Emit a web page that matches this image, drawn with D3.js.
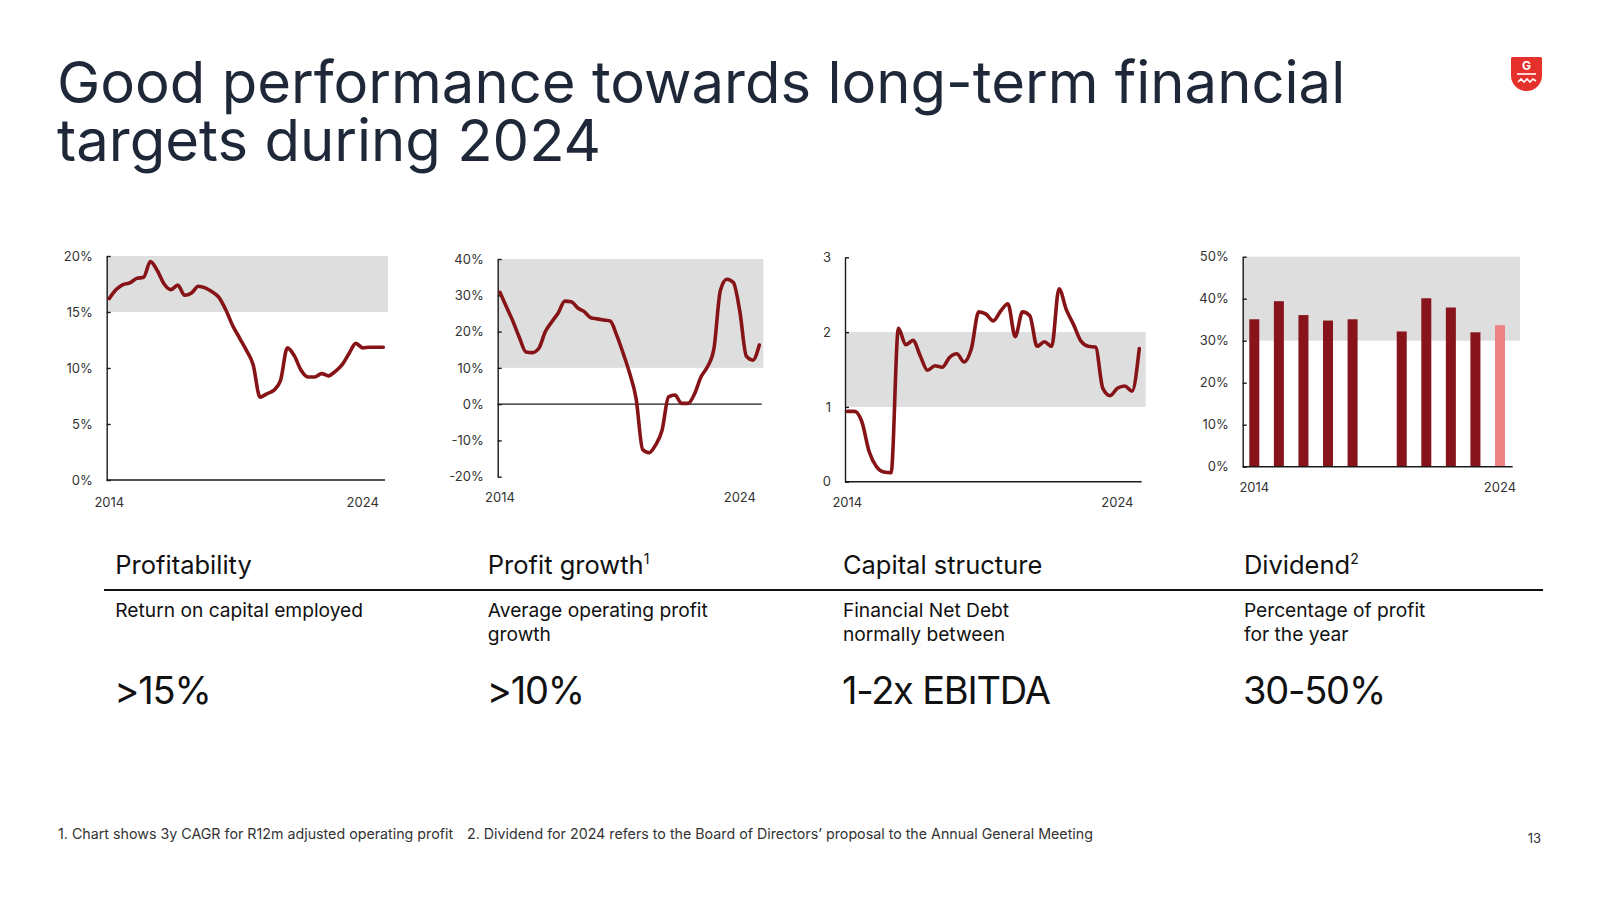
<!DOCTYPE html>
<html><head><meta charset="utf-8">
<script src="https://cdn.jsdelivr.net/npm/d3@7"></script>
<style>html,body{margin:0;padding:0;background:#fff;}svg{display:block;font-family:Inter,"Noto Sans",sans-serif;}</style>
</head><body>
<svg id="c" width="1600" height="900"></svg>
<script>
// ---------- DATA ----------
const quarters = ["2014Q4","2015Q1","2015Q2","2015Q3","2015Q4","2016Q1","2016Q2","2016Q3","2016Q4","2017Q1","2017Q2","2017Q3","2017Q4","2018Q1","2018Q2","2018Q3","2018Q4","2019Q1","2019Q2","2019Q3","2019Q4","2020Q1","2020Q2","2020Q3","2020Q4","2021Q1","2021Q2","2021Q3","2021Q4","2022Q1","2022Q2","2022Q3","2022Q4","2023Q1","2023Q2","2023Q3","2023Q4","2024Q1","2024Q2","2024Q3","2024Q4"];
const roce = [16.2,17.0,17.45,17.6,18.0,18.1,19.5,18.7,17.5,17.0,17.4,16.5,16.7,17.3,17.15,16.8,16.3,15.2,13.8,12.7,11.6,10.3,7.4,7.7,8.0,8.9,11.8,11.1,9.8,9.2,9.2,9.5,9.3,9.7,10.3,11.3,12.2,11.8,11.85,11.85,11.85];
const profitGrowth = [30.8,26.8,22.8,18.3,14.4,14.2,15.4,20.0,22.7,25.2,28.4,28.2,26.5,25.5,23.8,23.5,23.2,22.9,19.0,14.0,8.5,1.5,-12.5,-13.4,-11.3,-7.2,2.0,2.5,0.2,0.2,2.8,7.5,10.3,15.3,31.4,34.4,33.5,25.5,13.2,12.1,16.3];
const netDebtEbitda = [0.94,0.94,0.80,0.40,0.20,0.13,0.12,2.05,1.83,1.89,1.68,1.49,1.55,1.53,1.66,1.71,1.60,1.78,2.27,2.24,2.15,2.28,2.38,1.94,2.27,2.22,1.81,1.87,1.81,2.58,2.30,2.10,1.88,1.81,1.80,1.25,1.15,1.25,1.28,1.21,1.78];
const divYears = [2014,2015,2016,2017,2018,2019,2020,2021,2022,2023,2024];
const divPayout = [35.1,39.4,36.1,34.8,35.1,null,32.2,40.1,37.9,32.0,33.7];
const xTickQuarters = ["2014Q4","2024Q1"];
const xTickLabels = ["2014","2024"];
const roceTicks = [0,5,10,15,20];
const growthTicks = [-20,-10,0,10,20,30,40];
const debtTicks = [0,1,2,3];
const divTicks = [0,10,20,30,40,50];
const roceTarget = [15,20];
const growthTarget = [10,40];
const debtTarget = [1,2];
const divTarget = [30,50];

const titleLines = ["Good performance towards long-term financial","targets during 2024"];
const headings = [["Profitability",""],["Profit growth","1"],["Capital structure",""],["Dividend","2"]];
const subLabels = [["Return on capital employed"],["Average operating profit","growth"],["Financial Net Debt","normally between"],["Percentage of profit","for the year"]];
const targets = [">15%",">10%","1-2x EBITDA","30-50%"];
const footnote1 = "1. Chart shows 3y CAGR for R12m adjusted operating profit";
const footnote2 = "2. Dividend for 2024 refers to the Board of Directors\u2019 proposal to the Annual General Meeting";
const pageNo = "13";

// ---------- STYLE ----------
const RED = "#861417", BAR = "#86141A", BAR_LAST = "#EE8282", BAND = "#DEDEDE", AX = "#1a1a1a", TXT = "#333";
const svg = d3.select("#c");

// Title
titleLines.forEach((t,i)=> svg.append("text").attr("fill","#1F2839").attr("font-size",58).attr("x",57).attr("y",103+i*57.5).text(t));

// Logo
const lg = svg.append("g").attr("transform","translate(1511,57)");
lg.append("path").attr("d","M0,1.5 Q0,0 1.5,0 H29.5 Q31,0 31,1.5 V18.5 A15.5,15.5 0 0 1 0,18.5 Z").attr("fill","#E6302C");
lg.append("text").attr("x",15.5).attr("y",13).attr("text-anchor","middle").attr("font-size",12).attr("font-weight",700).attr("fill","#fff").text("G");
lg.append("line").attr("x1",6).attr("x2",25).attr("y1",17).attr("y2",17).attr("stroke","#fff").attr("stroke-width",1.6);
lg.append("path").attr("d","M7,25 L10,22 L13,25 L16,22 L19,25 L22,22 L25,24").attr("fill","none").attr("stroke","#fff").attr("stroke-width",1.6);

// ---------- LINE CHARTS ----------
function lineChart(cfg){
  const g = svg.append("g");
  const x = d3.scaleLinear().domain([0, quarters.length-1]).range(cfg.xr);
  const y = d3.scaleLinear().domain(cfg.yd).range([cfg.bottom, cfg.top]);
  g.append("rect").attr("x",cfg.axisX).attr("width",cfg.bandEnd-cfg.axisX)
    .attr("y",y(cfg.target[1])).attr("height",y(cfg.target[0])-y(cfg.target[1])).attr("fill",BAND);
  const ax = d3.axisLeft(y).tickValues(cfg.ticks).tickSize(-4).tickSizeOuter(0).tickPadding(14).tickFormat(cfg.fmt);
  const ag = g.append("g").attr("transform",`translate(${cfg.axisX},0)`).call(ax);
  ag.selectAll("path,line").attr("stroke",AX).attr("stroke-width",1.4);
  ag.selectAll("text").attr("font-size",13).attr("fill",TXT).attr("font-family","Inter");
  g.append("line").attr("x1",cfg.axisX).attr("x2",cfg.axisEnd).attr("y1",y(cfg.base)).attr("y2",y(cfg.base)).attr("stroke",AX).attr("stroke-width",1.4);
  g.selectAll(".xl").data(xTickQuarters).join("text").attr("x",d=>x(quarters.indexOf(d))).attr("y",cfg.labelY)
    .attr("text-anchor","middle").attr("font-size",13).attr("fill",TXT).text((d,i)=>xTickLabels[i]);
  const line = d3.line().x((d,i)=>x(i)).y(d=>y(d)).curve(d3.curveMonotoneX);
  g.append("path").datum(cfg.data).attr("d",line).attr("fill","none").attr("stroke",RED).attr("stroke-width",3.6).attr("stroke-linejoin","round").attr("stroke-linecap","round");
}
const pct = d=>d+"%";
lineChart({data:roce, yd:[0,20], ticks:roceTicks, target:roceTarget, fmt:pct, axisX:106.7, bandEnd:388, axisEnd:385, top:256, bottom:480, xr:[109.3,383.3], labelY:506.5, base:0});
lineChart({data:profitGrowth, yd:[-20,40], ticks:growthTicks, target:growthTarget, fmt:pct, axisX:497.7, bandEnd:763.3, axisEnd:761.7, top:259, bottom:476.7, xr:[500,759.3], labelY:501.5, base:0});
lineChart({data:netDebtEbitda, yd:[0,3], ticks:debtTicks, target:debtTarget, fmt:d=>d, axisX:845, bandEnd:1145.7, axisEnd:1141.7, top:257.3, bottom:481.7, xr:[847.3,1139.3], labelY:506.5, base:0});

// ---------- BAR CHART ----------
(function(){
  const g = svg.append("g");
  const axisX=1242.7, bandEnd=1520, axisEnd=1512.7, top=256.7, bottom=466.7;
  const x = d3.scalePoint().domain(divYears).range([1254.3,1500]);
  const y = d3.scaleLinear().domain([0,50]).range([bottom,top]);
  g.append("rect").attr("x",axisX).attr("width",bandEnd-axisX).attr("y",y(divTarget[1])).attr("height",y(divTarget[0])-y(divTarget[1])).attr("fill",BAND);
  const bw = 10;
  g.selectAll(".bar").data(divYears.map((yr,i)=>({yr,v:divPayout[i],last:i===divYears.length-1})).filter(d=>d.v!=null))
    .join("rect").attr("x",d=>x(d.yr)-bw/2).attr("width",bw).attr("y",d=>y(d.v)).attr("height",d=>y(0)-y(d.v))
    .attr("fill",d=>d.last?BAR_LAST:BAR);
  const ax = d3.axisLeft(y).tickValues(divTicks).tickSize(-4).tickSizeOuter(0).tickPadding(14).tickFormat(pct);
  const ag = g.append("g").attr("transform",`translate(${axisX},0)`).call(ax);
  ag.selectAll("path,line").attr("stroke",AX).attr("stroke-width",1.4);
  ag.selectAll("text").attr("font-size",13).attr("fill",TXT).attr("font-family","Inter");
  g.append("line").attr("x1",axisX).attr("x2",axisEnd).attr("y1",y(0)).attr("y2",y(0)).attr("stroke",AX).attr("stroke-width",1.4);
  g.selectAll(".xl").data([divYears[0],divYears[divYears.length-1]]).join("text").attr("x",d=>x(d)).attr("y",491.5)
    .attr("text-anchor","middle").attr("font-size",13).attr("fill",TXT).text(d=>d);
})();

// ---------- TEXT BLOCKS ----------
const colX = [115.3,487.8,842.9,1243.9];
headings.forEach((h,i)=>{
  const t = svg.append("text").attr("x",colX[i]).attr("y",573.5).attr("font-size",25.5).attr("fill","#111").text(h[0]);
  if(h[1]) t.append("tspan").attr("font-size",14).attr("dy",-10).text(h[1]);
});
svg.append("line").attr("x1",104).attr("x2",1543).attr("y1",590).attr("y2",590).attr("stroke","#111").attr("stroke-width",1.8);
subLabels.forEach((s,i)=>{
  const t = svg.append("text").attr("font-size",19.2).attr("fill","#111");
  s.forEach((l,j)=>t.append("tspan").attr("x",colX[i]).attr("y",616.5+j*24.5).text(l));
});
targets.forEach((s,i)=> svg.append("text").attr("x",colX[i]-1).attr("y",704).attr("font-size",38).attr("letter-spacing",-1.2).attr("fill","#111").text(s));
svg.append("text").attr("x",58).attr("y",839).attr("font-size",14.25).attr("fill","#333").text(footnote1);
svg.append("text").attr("x",467).attr("y",839).attr("font-size",14.25).attr("fill","#333").text(footnote2);
svg.append("text").attr("x",1541).attr("y",843).attr("text-anchor","end").attr("font-size",13).attr("fill","#333").text(pageNo);
</script>
</body></html>
